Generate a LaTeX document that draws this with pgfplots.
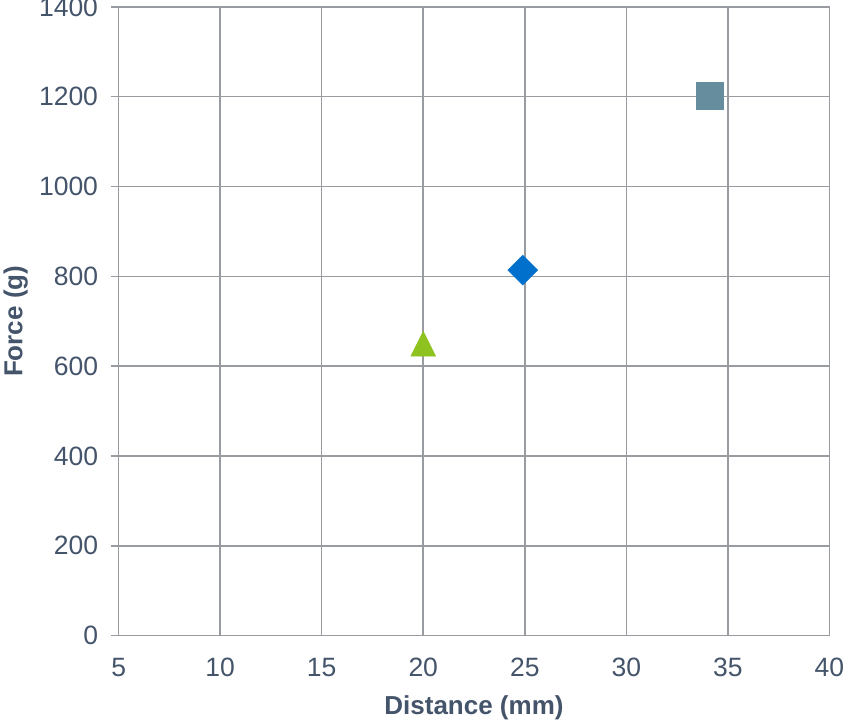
\documentclass[border=0pt]{standalone}
\usepackage{pgfplots}
\pgfplotsset{compat=1.18}
\usepackage{fontspec}
\setmainfont{Liberation Sans}

\definecolor{gridgray}{HTML}{989BA0}
\definecolor{txt}{HTML}{44546A}
\definecolor{sqcol}{HTML}{658D9E}
\definecolor{diacol}{HTML}{0070CC}
\definecolor{tricol}{HTML}{8DC21F}

\begin{document}
\begin{tikzpicture}
\begin{axis}[
  at={(0,0)}, anchor=south west,
  scale only axis, width=710.6bp, height=628.8bp,
  xmin=5, xmax=40, ymin=0, ymax=1400,
  xtick={5,10,...,40}, ytick={0,200,...,1400},
  ytick pos=left, xtick pos=bottom,
  grid=major,
  major grid style={gridgray, line width=1.5bp},
  axis line style={gridgray, line width=1.5bp},
  xtick style={draw=none},
  ytick style={gridgray, line width=1.5bp},
  tick align=outside, major tick length=8bp,
  tick label style={font=\fontsize{26.5bp}{30bp}\selectfont, text=txt, inner sep=0pt},
  xticklabel style={anchor=north, yshift=-14bp},
  yticklabel style={anchor=east, xshift=-12.5bp},
  /pgf/number format/assume math mode=true,
  /pgf/number format/1000 sep={},
  xlabel={Distance (mm)}, ylabel={Force (g)},
  label style={font=\bfseries\fontsize{26bp}{30bp}\selectfont, text=txt},
  xlabel style={at={(axis description cs:0.5,-0.1145)}, anchor=center},
  ylabel style={at={(axis description cs:-0.1449,0.5)}, anchor=center},
]
% one marker per measured sample
\addplot[only marks, mark=square*, mark size=13.5bp, color=sqcol,
  mark options={line width=0.3bp}] coordinates {(34.1,1203)};
\addplot[only marks, mark=square*, mark size=10.6bp, color=diacol,
  mark options={rotate=45, line width=0.3bp}] coordinates {(24.9,814)};
\addplot[only marks, mark=triangle*, mark size=14.4bp, color=tricol,
  mark options={yshift=-4.1bp, yscale=1.155, line width=0.3bp}] coordinates {(20,650)};
\end{axis}
\pgfresetboundingbox
\useasboundingbox (-118.7bp,-85.3bp) rectangle (727.3bp,635.7bp);
\end{tikzpicture}
\end{document}
